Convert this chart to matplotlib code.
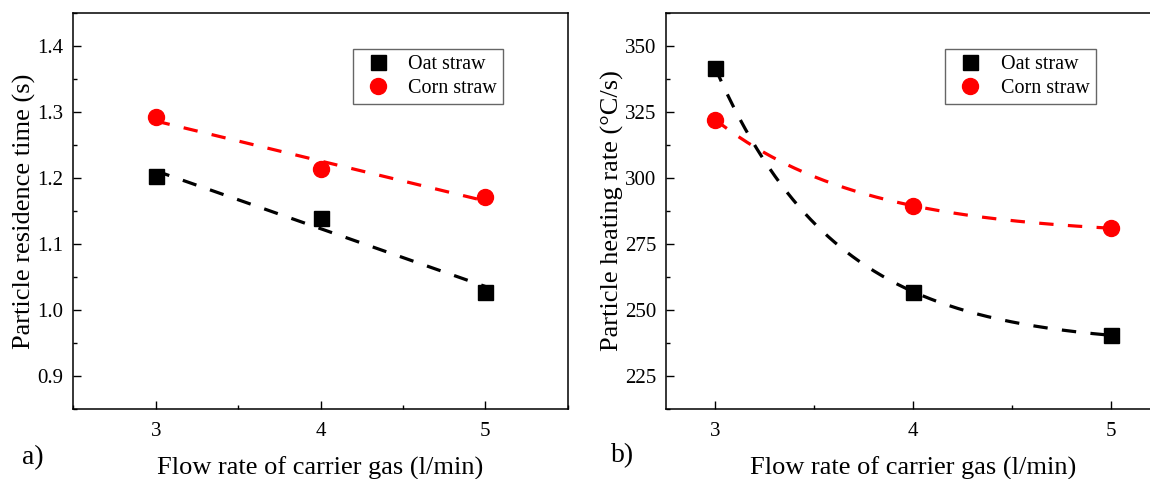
import numpy as np
import matplotlib
matplotlib.use("Agg")
import matplotlib.pyplot as plt
from matplotlib.ticker import MultipleLocator, AutoMinorLocator, FormatStrFormatter

# Carrier gas flow rate (l/min)
flow_rate = [3, 4, 5]

# Particle residence time (s)
oat_residence = [1.203, 1.139, 1.028]
corn_residence = [1.292, 1.214, 1.171]

# Particle heating rate (°C/s)
oat_heating = [341.5, 257.0, 240.5]
corn_heating = [322.0, 289.5, 281.0]

labels = ["Oat straw", "Corn straw"]

plt.rcParams["font.family"] = ["Liberation Serif", "DejaVu Serif"]

W, H = 1150, 479
fig = plt.figure(figsize=(W / 100, H / 100), dpi=100)

ax_a = fig.add_axes([73.3 / W, 1 - 409.3 / H, 494.4 / W, 396.6 / H])
ax_b = fig.add_axes([666 / W, 1 - 409.3 / H, 494.0 / W, 396.6 / H])

dash = (0, (4.5, 4.5))
lw = 2.3


def linear_fit(x, y, xs):
    k, b = np.polyfit(x, y, 1)
    return k * xs + b


def exp_decay_fit(x, y, xs):
    # y = c + a * r**(x - x0) through three equally spaced points
    x = np.asarray(x, float)
    y = np.asarray(y, float)
    r = (y[2] - y[1]) / (y[1] - y[0])
    a = (y[1] - y[0]) / (r - 1)
    c = y[0] - a
    step = x[1] - x[0]
    return c + a * r ** ((xs - x[0]) / step)


xs = np.linspace(min(flow_rate), max(flow_rate), 200)

# Panel a: residence time with linear fits
ax_a.plot(xs, linear_fit(flow_rate, oat_residence, xs), color="black",
          lw=lw, linestyle=dash, zorder=2)
ax_a.plot(xs, linear_fit(flow_rate, corn_residence, xs), color="#ff0000",
          lw=lw, linestyle=dash, zorder=2)
ax_a.plot(flow_rate, oat_residence, "s", color="black", ms=10.8,
          label=labels[0], zorder=3)
ax_a.plot(flow_rate, corn_residence, "o", color="#ff0000", ms=11.5,
          label=labels[1], zorder=3)
ax_a.set_xlim(2.5, 5.5)
ax_a.set_ylim(0.85, 1.45)
ax_a.yaxis.set_major_locator(MultipleLocator(0.1))
ax_a.yaxis.set_major_formatter(FormatStrFormatter("%.1f"))
ax_a.set_ylabel("Particle residence time (s)")

# Panel b: heating rate with exponential decay fits
ax_b.plot(xs, exp_decay_fit(flow_rate, oat_heating, xs), color="black",
          lw=lw, linestyle=dash, zorder=2)
ax_b.plot(xs, exp_decay_fit(flow_rate, corn_heating, xs), color="#ff0000",
          lw=lw, linestyle=dash, zorder=2)
ax_b.plot(flow_rate, oat_heating, "s", color="black", ms=10.8,
          label=labels[0], zorder=3)
ax_b.plot(flow_rate, corn_heating, "o", color="#ff0000", ms=11.5,
          label=labels[1], zorder=3)
ax_b.set_xlim(2.75, 5.25)
ax_b.set_ylim(212.5, 362.5)
ax_b.yaxis.set_major_locator(MultipleLocator(25))
ax_b.set_ylabel("Particle heating rate (°C/s)")

for ax, ylab_x in ((ax_a, -0.076), (ax_b, -0.085)):
    ax.xaxis.set_major_locator(MultipleLocator(1))
    ax.xaxis.set_minor_locator(AutoMinorLocator(2))
    ax.yaxis.set_minor_locator(AutoMinorLocator(2))
    ax.tick_params(which="both", direction="in", width=1.0, colors="black",
                   labelsize=15, top=False, right=False)
    ax.tick_params(which="major", length=5.5)
    ax.tick_params(which="minor", length=3.2)
    ax.tick_params(axis="x", pad=9)
    ax.tick_params(axis="y", pad=7)
    for s in ax.spines.values():
        s.set_linewidth(1.1)
    ax.set_xlabel("Flow rate of carrier gas (l/min)", fontsize=19)
    ax.yaxis.label.set_fontsize(19)
    ax.xaxis.set_label_coords(0.5, -0.118)
    ax.yaxis.set_label_coords(ylab_x, 0.5)
    leg = ax.legend(loc="upper left", bbox_to_anchor=(0.565, 0.908),
                    borderaxespad=0, fontsize=14.5, frameon=True,
                    fancybox=False, edgecolor="#404040", handlelength=1.9,
                    handletextpad=0.57, borderpad=0.3, labelspacing=0.25)
    leg.get_frame().set_linewidth(1.0)

fig.text(33 / W, 1 - 458 / H, "a)", fontsize=20, ha="center", va="center")
fig.text(623 / W, 1 - 456 / H, "b)", fontsize=20, ha="center", va="center")

fig.savefig("out.png", dpi=100)
